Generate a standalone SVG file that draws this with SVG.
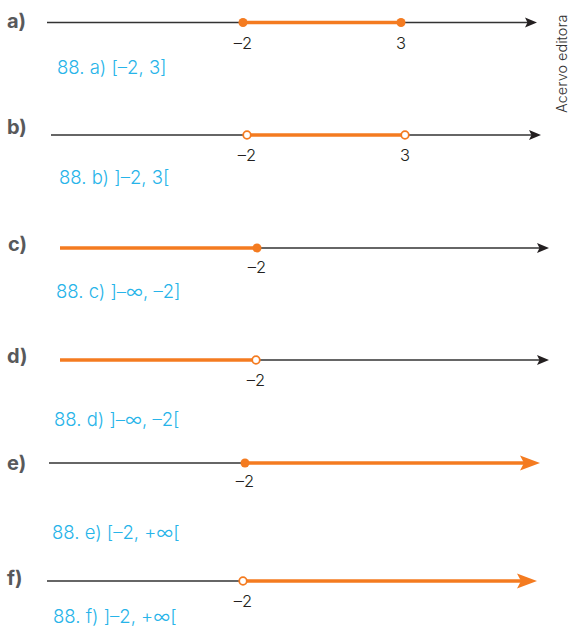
<svg xmlns="http://www.w3.org/2000/svg" width="569" height="627" viewBox="0 0 569 627">
<style>
.lbl{font-family:Inter,"Liberation Sans",sans-serif;font-weight:700;font-size:20px;fill:#58595b}
.ans{font-family:Inter,"Liberation Sans",sans-serif;font-weight:300;font-size:18.5px;fill:#27b4e9}
.num{font-family:Inter,"Liberation Sans",sans-serif;font-weight:300;font-size:16.5px;fill:#231f20;text-anchor:middle}
.axis{stroke:#333;stroke-width:1.3;fill:none}
.seg{stroke:#f47b20;stroke-width:3.5;fill:none}
.ahk{fill:#231f20}
.aho{fill:#f47b20}
.cf{fill:#f47b20}
.co{fill:#fff;stroke:#f47b20;stroke-width:1.8}
.credit{font-family:Inter,"Liberation Sans",sans-serif;font-weight:300;font-size:14.5px;fill:#333}
</style>
<rect width="569" height="627" fill="#fff"/>
<g id="connectors">
<line class="axis" x1="47" y1="22.5" x2="528" y2="22.5"/>
<path class="ahk" d="M537,22.5 L525,17.5 L527.5,22.5 L525,27.5 Z"/>
<line class="seg" x1="243" y1="22.5" x2="401" y2="22.5"/>
<line class="axis" x1="51" y1="135" x2="532" y2="135"/>
<path class="ahk" d="M541,135 L529,130 L531.5,135 L529,140 Z"/>
<line class="seg" x1="247" y1="135" x2="405" y2="135"/>
<line class="axis" x1="257" y1="248" x2="540" y2="248"/>
<path class="ahk" d="M549,248 L537,243 L539.5,248 L537,253 Z"/>
<line class="seg" x1="60" y1="248" x2="257" y2="248"/>
<line class="axis" x1="256" y1="360" x2="540" y2="360"/>
<path class="ahk" d="M549,360 L537,355 L539.5,360 L537,365 Z"/>
<line class="seg" x1="60" y1="360" x2="256" y2="360"/>
<line class="axis" x1="49" y1="463" x2="245" y2="463"/>
<line class="seg" x1="245" y1="463" x2="527" y2="463"/>
<path class="aho" d="M540,463 L520,455.5 L524,463 L520,470.5 Z"/>
<line class="axis" x1="47" y1="581" x2="243" y2="581"/>
<line class="seg" x1="243" y1="581" x2="524" y2="581"/>
<path class="aho" d="M537,581 L517,573.5 L521,581 L517,588.5 Z"/>
</g>
<g id="a">
<text class="lbl" x="7" y="28">a)</text>
<circle class="cf" cx="243" cy="22.5" r="4.5"/>
<circle class="cf" cx="401" cy="22.5" r="4.5"/>
<text class="num" x="243" y="49">–2</text>
<text class="num" x="401" y="49">3</text>
<text class="ans" x="57" y="74">88. a) [–2, 3]</text>
</g>
<g id="b">
<text class="lbl" x="7" y="134">b)</text>
<circle class="co" cx="247" cy="135" r="3.8"/>
<circle class="co" cx="405" cy="135" r="3.8"/>
<text class="num" x="247" y="161">–2</text>
<text class="num" x="405" y="161">3</text>
<text class="ans" x="59" y="184">88. b) ]–2, 3[</text>
</g>
<g id="c">
<text class="lbl" x="8" y="251">c)</text>
<circle class="cf" cx="257" cy="248" r="4.5"/>
<text class="num" x="257" y="273">–2</text>
<text class="ans" x="56" y="298">88. c) ]–∞, –2]</text>
</g>
<g id="d">
<text class="lbl" x="7" y="363">d)</text>
<circle class="co" cx="256" cy="360" r="3.8"/>
<text class="num" x="256" y="386">–2</text>
<text class="ans" x="54" y="426">88. d) ]–∞, –2[</text>
</g>
<g id="e">
<text class="lbl" x="7" y="470">e)</text>
<circle class="cf" cx="245" cy="463" r="4.5"/>
<text class="num" x="245" y="487">–2</text>
<text class="ans" x="52" y="539">88. e) [–2, +∞[</text>
</g>
<g id="f">
<text class="lbl" x="7" y="585">f)</text>
<circle class="co" cx="243" cy="581" r="3.8"/>
<text class="num" x="243" y="607">–2</text>
<text class="ans" x="53" y="623">88. f) ]–2, +∞[</text>
</g>
<g id="credit">
<text class="credit" transform="translate(567,113) rotate(-90)">Acervo editora</text>
</g>
</svg>
